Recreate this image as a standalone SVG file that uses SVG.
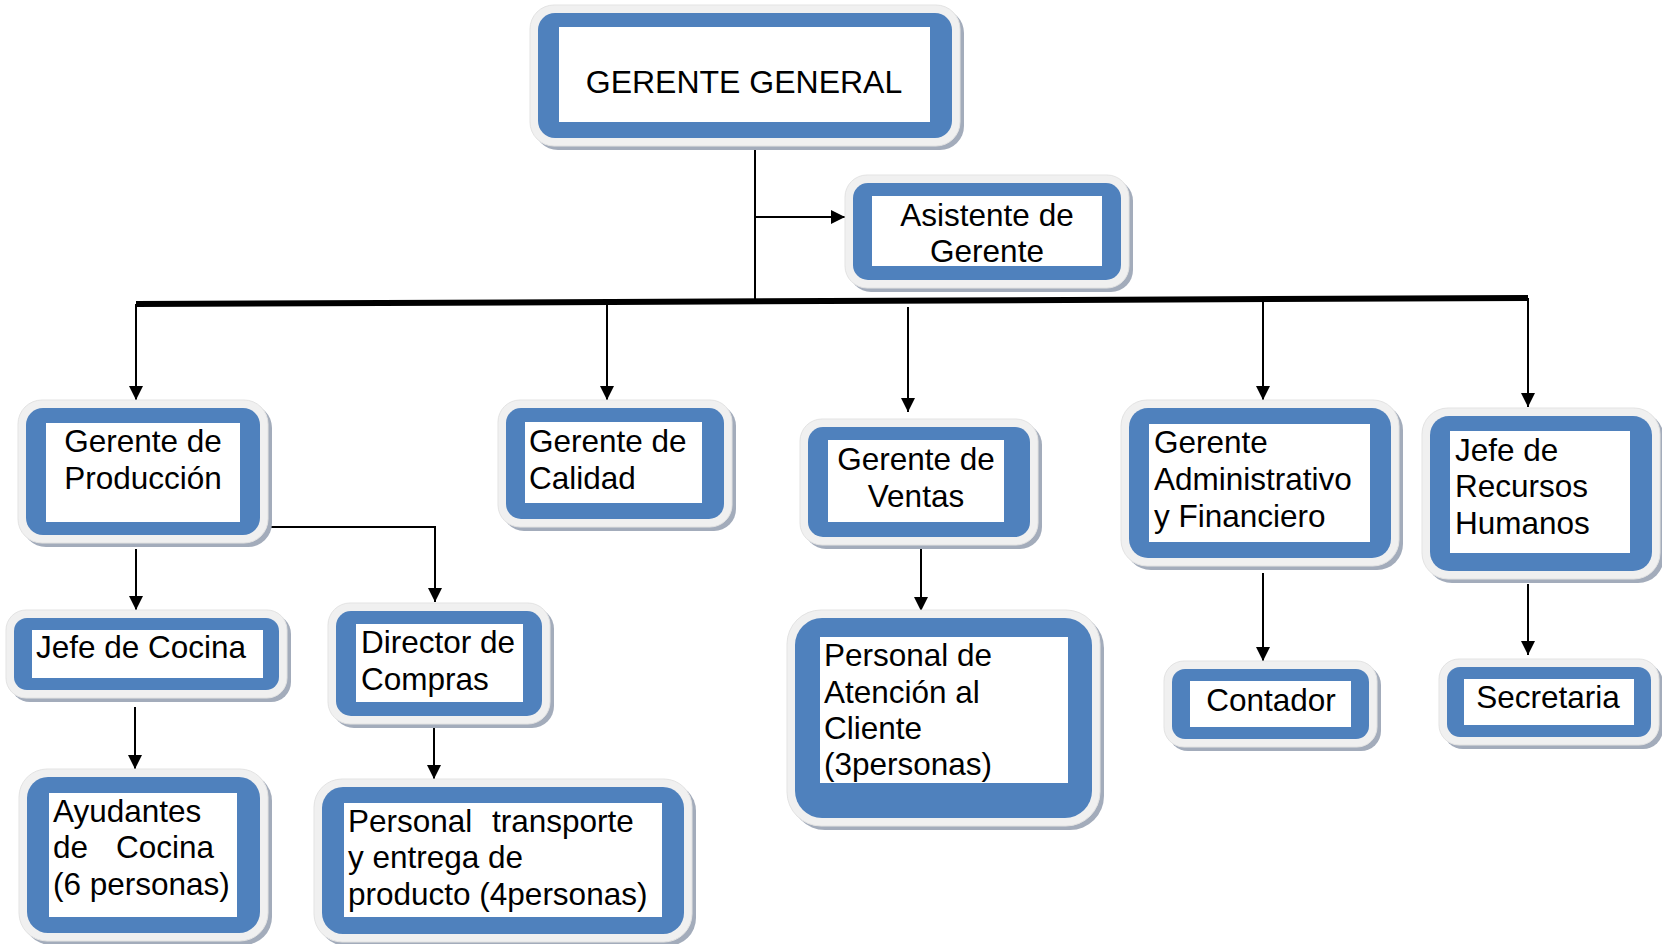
<svg xmlns="http://www.w3.org/2000/svg" width="1662" height="944" viewBox="0 0 1662 944">
<defs>
<marker id="ah" markerUnits="userSpaceOnUse" markerWidth="14" markerHeight="14" viewBox="0 0 14 14" refX="14" refY="7" orient="auto">
<path d="M0,0 L14,7 L0,14 z" fill="#000"/>
</marker>
</defs>
<style>
.sh{fill:#a3acbb}
.rim{fill:#f0f0f0;stroke:#e3e3e3;stroke-width:1}
.bl{fill:#4f81bd}
.wh{fill:#ffffff}
text{font-family:"Liberation Sans",Arial,sans-serif;font-size:31.5px;fill:#000}
.c{text-anchor:middle}
.ln{fill:none;stroke:#000;stroke-width:2}
</style>
<rect width="1662" height="944" fill="#fff"/>
<g id="connectors">
<line class="ln" x1="755" y1="146" x2="755" y2="301"/>
<line class="ln" x1="755" y1="217" x2="845" y2="217" marker-end="url(#ah)"/>
<path d="M136,304 L1528,298" stroke="#000" stroke-width="6" fill="none"/>
<line class="ln" x1="136" y1="304" x2="136" y2="400" marker-end="url(#ah)"/>
<line class="ln" x1="607" y1="302" x2="607" y2="400" marker-end="url(#ah)"/>
<line class="ln" x1="908" y1="307" x2="908" y2="412" marker-end="url(#ah)"/>
<line class="ln" x1="1263" y1="300" x2="1263" y2="400" marker-end="url(#ah)"/>
<line class="ln" x1="1528" y1="298" x2="1528" y2="407" marker-end="url(#ah)"/>
<line class="ln" x1="136" y1="549" x2="136" y2="610" marker-end="url(#ah)"/>
<path class="ln" d="M264,527 H435 V602" marker-end="url(#ah)"/>
<line class="ln" x1="135" y1="707" x2="135" y2="769" marker-end="url(#ah)"/>
<line class="ln" x1="434" y1="718" x2="434" y2="779" marker-end="url(#ah)"/>
<line class="ln" x1="921" y1="544" x2="921" y2="611" marker-end="url(#ah)"/>
<line class="ln" x1="1263" y1="573" x2="1263" y2="661" marker-end="url(#ah)"/>
<line class="ln" x1="1528" y1="584" x2="1528" y2="655" marker-end="url(#ah)"/>
</g>
<g id="gerente-general">
<rect class="sh" x="534" y="9" width="430" height="141" rx="24"/>
<rect class="rim" x="530" y="5" width="430" height="141" rx="24"/>
<rect class="bl" x="538" y="13" width="414" height="125" rx="17"/>
<rect class="wh" x="559" y="27" width="371" height="95"/>
<text class="c" x="744" y="93" style="font-size:32px">GERENTE GENERAL</text>
</g>
<g id="asistente">
<rect class="sh" x="849" y="179" width="284" height="113" rx="22"/>
<rect class="rim" x="845" y="175" width="284" height="113" rx="22"/>
<rect class="bl" x="853" y="183" width="268" height="97" rx="15"/>
<rect class="wh" x="872" y="196" width="230" height="70"/>
<text class="c" x="987" y="226">Asistente de</text>
<text class="c" x="987" y="262">Gerente</text>
</g>
<g id="produccion">
<rect class="sh" x="22" y="404" width="250" height="143" rx="24"/>
<rect class="rim" x="18" y="400" width="250" height="143" rx="24"/>
<rect class="bl" x="26" y="408" width="234" height="127" rx="17"/>
<rect class="wh" x="46" y="423" width="194" height="99"/>
<text class="c" x="143" y="452">Gerente de</text>
<text class="c" x="143" y="489">Producción</text>
</g>
<g id="calidad">
<rect class="sh" x="502" y="404" width="234" height="127" rx="22"/>
<rect class="rim" x="498" y="400" width="234" height="127" rx="22"/>
<rect class="bl" x="506" y="408" width="218" height="111" rx="15"/>
<rect class="wh" x="525" y="422" width="177" height="81"/>
<text x="529" y="452">Gerente de</text>
<text x="529" y="489">Calidad</text>
</g>
<g id="ventas">
<rect class="sh" x="804" y="423" width="238" height="126" rx="22"/>
<rect class="rim" x="800" y="419" width="238" height="126" rx="22"/>
<rect class="bl" x="808" y="427" width="222" height="110" rx="15"/>
<rect class="wh" x="828" y="440" width="176" height="82"/>
<text class="c" x="916" y="470">Gerente de</text>
<text class="c" x="916" y="507">Ventas</text>
</g>
<g id="administrativo">
<rect class="sh" x="1125" y="404" width="278" height="166" rx="26"/>
<rect class="rim" x="1121" y="400" width="278" height="166" rx="26"/>
<rect class="bl" x="1129" y="408" width="262" height="150" rx="19"/>
<rect class="wh" x="1149" y="424" width="221" height="118"/>
<text x="1154" y="453">Gerente</text>
<text x="1154" y="490">Administrativo</text>
<text x="1154" y="527">y Financiero</text>
</g>
<g id="recursos-humanos">
<rect class="sh" x="1426" y="412" width="238" height="171" rx="26"/>
<rect class="rim" x="1422" y="408" width="238" height="171" rx="26"/>
<rect class="bl" x="1430" y="416" width="222" height="155" rx="19"/>
<rect class="wh" x="1450" y="431" width="180" height="122"/>
<text x="1455" y="461">Jefe de</text>
<text x="1455" y="497">Recursos</text>
<text x="1455" y="534">Humanos</text>
</g>
<g id="jefe-cocina">
<rect class="sh" x="10" y="614" width="281" height="88" rx="20"/>
<rect class="rim" x="6" y="610" width="281" height="88" rx="20"/>
<rect class="bl" x="14" y="618" width="265" height="72" rx="13"/>
<rect class="wh" x="32" y="630" width="231" height="48"/>
<text x="36" y="658">Jefe de Cocina</text>
</g>
<g id="director-compras">
<rect class="sh" x="332" y="607" width="222" height="121" rx="22"/>
<rect class="rim" x="328" y="603" width="222" height="121" rx="22"/>
<rect class="bl" x="336" y="611" width="206" height="105" rx="15"/>
<rect class="wh" x="356" y="624" width="167" height="78"/>
<text x="361" y="653">Director de</text>
<text x="361" y="690">Compras</text>
</g>
<g id="ayudantes">
<rect class="sh" x="23" y="773" width="249" height="172" rx="28"/>
<rect class="rim" x="19" y="769" width="249" height="172" rx="28"/>
<rect class="bl" x="27" y="777" width="233" height="156" rx="21"/>
<rect class="wh" x="49" y="793" width="188" height="124"/>
<text x="53" y="822">Ayudantes</text>
<text y="858"><tspan x="53">de</tspan><tspan x="116">Cocina</tspan></text>
<text x="53" y="895">(6 personas)</text>
</g>
<g id="transporte">
<rect class="sh" x="318" y="783" width="378" height="163" rx="28"/>
<rect class="rim" x="314" y="779" width="378" height="163" rx="28"/>
<rect class="bl" x="322" y="787" width="362" height="147" rx="21"/>
<rect class="wh" x="344" y="803" width="318" height="114"/>
<text y="832"><tspan x="348">Personal</tspan><tspan x="492">transporte</tspan></text>
<text x="348" y="868">y entrega de</text>
<text x="348" y="905">producto (4personas)</text>
</g>
<g id="atencion-cliente">
<rect class="sh" x="791" y="614" width="313" height="216" rx="34"/>
<rect class="rim" x="787" y="610" width="313" height="216" rx="34"/>
<rect class="bl" x="795" y="618" width="297" height="200" rx="27"/>
<rect class="wh" x="820" y="637" width="248" height="146"/>
<text x="824" y="666">Personal de</text>
<text x="824" y="703">Atención al</text>
<text x="824" y="739">Cliente</text>
<text x="824" y="775">(3personas)</text>
</g>
<g id="contador">
<rect class="sh" x="1168" y="665" width="213" height="86" rx="20"/>
<rect class="rim" x="1164" y="661" width="213" height="86" rx="20"/>
<rect class="bl" x="1172" y="669" width="197" height="70" rx="13"/>
<rect class="wh" x="1190" y="681" width="161" height="46"/>
<text class="c" x="1271" y="711">Contador</text>
</g>
<g id="secretaria">
<rect class="sh" x="1443" y="663" width="220" height="86" rx="20"/>
<rect class="rim" x="1439" y="659" width="220" height="86" rx="20"/>
<rect class="bl" x="1447" y="667" width="204" height="70" rx="13"/>
<rect class="wh" x="1464" y="679" width="170" height="46"/>
<text class="c" x="1548" y="708">Secretaria</text>
</g>
</svg>
